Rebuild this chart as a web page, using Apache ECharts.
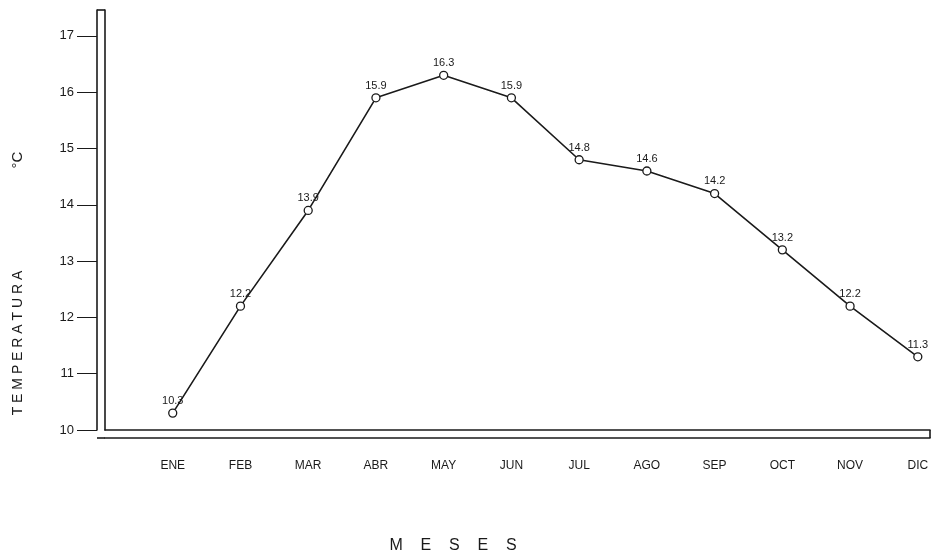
<!DOCTYPE html>
<html>
<head>
<meta charset="utf-8">
<script src="https://cdn.jsdelivr.net/npm/echarts@6/dist/echarts.min.js"></script>
<style>
  html, body { margin: 0; padding: 0; background: #fff; }
  #chart { width: 933px; height: 556px; }
</style>
</head>
<body>
<div id="chart"></div>
<script>
// datos
const meses = ['ENE', 'FEB', 'MAR', 'ABR', 'MAY', 'JUN', 'JUL', 'AGO', 'SEP', 'OCT', 'NOV', 'DIC']
const temperatura = [10.3, 12.2, 13.9, 15.9, 16.3, 15.9, 14.8, 14.6, 14.2, 13.2, 12.2, 11.3]
const yTicks = [10, 11, 12, 13, 14, 15, 16, 17]

const chart = echarts.init(document.getElementById('chart'))

const font = 'Liberation Sans, DejaVu Sans, sans-serif'
const ink = '#1a1a1a'

// eje con doble línea (marco hueco)
const lineStyle = { color: ink, width: 1.6 }

const option = {
  backgroundColor: '#fff',
  animation: false,
  grid: { left: 105, right: 3, top: 10, bottom: 126 },
  xAxis: [
    {
      type: 'value',
      min: -1,
      max: 11.18,
      interval: 1,
      position: 'bottom',
      axisLine: { show: true, onZero: false, lineStyle },
      axisTick: { show: false },
      axisLabel: { show: false },
      splitLine: { show: false }
    },
    {
      type: 'value',
      min: -1,
      max: 11.18,
      interval: 1,
      position: 'bottom',
      offset: 8,
      axisLine: { show: true, onZero: false, lineStyle },
      axisTick: { show: false },
      splitLine: { show: false },
      axisLabel: {
        margin: 22,
        fontFamily: font,
        fontSize: 12,
        color: ink,
        showMaxLabel: false,
        formatter: v => (Number.isInteger(v) && v >= 0 ? meses[v] : '')
      }
    }
  ],
  yAxis: [
    {
      type: 'value',
      min: 10,
      max: 17.46,
      interval: 1,
      position: 'left',
      axisLine: { show: true, onZero: false, lineStyle },
      axisTick: { show: false },
      axisLabel: { show: false },
      splitLine: { show: false }
    },
    {
      type: 'value',
      min: 10,
      max: 17.46,
      interval: 1,
      position: 'left',
      offset: 8,
      axisLine: { show: true, onZero: false, lineStyle },
      axisTick: { show: true, length: 20, lineStyle: { color: ink, width: 1 } },
      splitLine: { show: false },
      axisLabel: {
        margin: 23,
        fontFamily: font,
        fontSize: 13,
        color: ink,
        showMaxLabel: false,
        formatter: v => (yTicks.includes(v) ? String(v) : '')
      }
    }
  ],
  series: [
    {
      type: 'line',
      xAxisIndex: 0,
      yAxisIndex: 0,
      data: temperatura.map((t, i) => [i, t]),
      symbol: 'circle',
      symbolSize: 8,
      itemStyle: { color: '#fff', borderColor: ink, borderWidth: 1.3 },
      lineStyle: { color: ink, width: 1.6 },
      label: {
        show: true,
        position: 'top',
        distance: 2,
        fontFamily: font,
        fontSize: 11,
        color: ink,
        formatter: p => p.value[1].toFixed(1)
      }
    }
  ],
  graphic: [
    // remates del marco
    { type: 'line', shape: { x1: 97, y1: 10, x2: 105, y2: 10 }, style: { stroke: ink, lineWidth: 1.6 } },
    { type: 'line', shape: { x1: 930, y1: 430, x2: 930, y2: 438 }, style: { stroke: ink, lineWidth: 1.6 } },
    { type: 'line', shape: { x1: 97, y1: 438, x2: 105, y2: 438 }, style: { stroke: ink, lineWidth: 1.6 } },
    {
      type: 'text',
      x: 18, y: 343,
      rotation: Math.PI / 2,
      style: { text: 'T E M P E R A T U R A', fontFamily: font, fontSize: 14, fill: ink, align: 'center', verticalAlign: 'middle' }
    },
    {
      type: 'text',
      x: 18, y: 160,
      rotation: Math.PI / 2,
      style: { text: '°C', fontFamily: font, fontSize: 15, fill: ink, align: 'center', verticalAlign: 'middle' }
    },
    {
      type: 'text',
      x: 453, y: 546,
      style: { text: 'M    E    S    E    S', fontFamily: font, fontSize: 16, fill: ink, align: 'center', verticalAlign: 'middle' }
    }
  ]
}

chart.setOption(option)
</script>
</body>
</html>
